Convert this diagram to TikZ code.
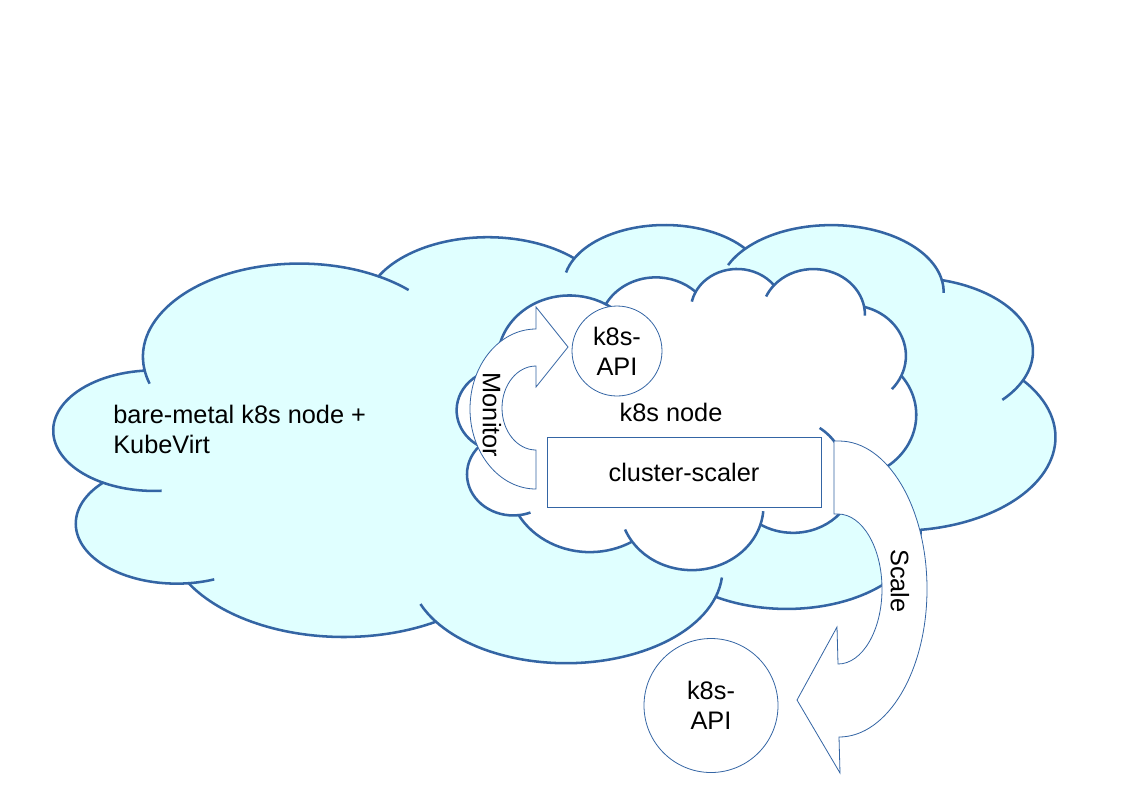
\documentclass[tikz,border=0pt]{standalone}
\usepackage{fontspec}
\setmainfont{Liberation Sans}
\usetikzlibrary{positioning}
\definecolor{CloudLine}{HTML}{3465A4}
\definecolor{CloudFill}{HTML}{E0FFFF}
\tikzset{
  cloudline/.style={draw=CloudLine,line width=1.9pt,line join=round},
  thinline/.style={draw=CloudLine,line width=0.6pt,line join=miter},
  txt/.style={font=\fontsize{19}{22.5}\selectfont,inner sep=0pt},
  apicircle/.style={circle,thinline,fill=white,align=center,txt},
  scalerbox/.style={rectangle,thinline,fill=white,txt,minimum width=205.5pt,minimum height=52.5pt}
}
% cloud outline: #1 name, #2/#3 top left, #4/#5 units, #6 fill
\newcommand\drawcloud[6]{%
\begin{scope}[shift={(#2,#3)}]
\begin{scope}[x=#4,y=-#5]
\filldraw[cloudline,fill=#6] (3.900,14.370) coordinate (#1-p0)
  arc[start angle=172.25,end angle=300.37,x radius=6.753,y radius=9.190] coordinate (#1-p1)
  arc[start angle=-152.05,end angle=-45.44,x radius=5.333,y radius=7.267] coordinate (#1-p2)
  arc[start angle=-153.49,end angle=-37.34,x radius=4.365,y radius=5.945] coordinate (#1-p3)
  arc[start angle=-139.71,end angle=-10.21,x radius=4.857,y radius=6.595] coordinate (#1-p4)
  arc[start angle=-74.77,end angle=23.21,x radius=5.333,y radius=7.273] coordinate (#1-p5)
  arc[start angle=-37.54,end angle=81.86,x radius=6.775,y radius=9.220] coordinate (#1-p6)
  arc[start angle=0.46,end angle=121.98,x radius=5.785,y radius=7.867] coordinate (#1-p7)
  arc[start angle=16.84,end angle=146.22,x radius=6.752,y radius=9.215] coordinate (#1-p8)
  arc[start angle=58.98,end angle=150.20,x radius=7.720,y radius=10.543] coordinate (#1-p9)
  arc[start angle=83.31,end angle=223.08,x radius=4.360,y radius=5.918] coordinate (#1-p10)
  arc[start angle=120.36,end angle=264.12,x radius=4.345,y radius=5.945] -- cycle;
% inner hooks
\draw[cloudline] (#1-p10) arc[start angle=120.36,end angle=85.54,x radius=4.345,y radius=5.945];
\draw[cloudline] (#1-p9) arc[start angle=83.31,end angle=68.24,x radius=4.360,y radius=5.918];
\draw[cloudline] (#1-p8) arc[start angle=146.22,end angle=158.47,x radius=6.752,y radius=9.215];
\draw[cloudline] (#1-p7) arc[start angle=16.84,end angle=4.74,x radius=6.752,y radius=9.215];
\draw[cloudline] (34.129,22.954) arc[start angle=-54,end angle=-30,x radius=5.785,y radius=7.867];
\draw[cloudline] (#1-p5) arc[start angle=23.21,end angle=41.23,x radius=5.333,y radius=7.273];
\draw[cloudline] (#1-p4) arc[start angle=-10.21,end angle=0.83,x radius=4.857,y radius=6.595];
\draw[cloudline] (#1-p3) arc[start angle=-139.71,end angle=-156.28,x radius=4.857,y radius=6.595];
\draw[cloudline] (#1-p2) arc[start angle=-153.49,end angle=-167.73,x radius=4.365,y radius=5.945];
\draw[cloudline] (#1-p1) arc[start angle=-59.63,end angle=-45.72,x radius=6.753,y radius=9.190];
\draw[cloudline] (#1-p0) arc[start angle=172.25,end angle=163.2,x radius=6.753,y radius=9.190];
\end{scope}
\end{scope}}

\begin{document}
\begin{tikzpicture}[x=0.75pt,y=-0.75pt]
\useasboundingbox (0,0) rectangle (1123,794);

% clouds
\drawcloud{outer}{54}{223.6}{17.378pt}{7.604pt}{CloudFill}
\drawcloud{inner}{457}{268}{7.969pt}{5.226pt}{white}

% nodes
\node[apicircle,minimum size=67.5pt] (apitop) at (617,351) {k8s-\\API};
\node[scalerbox] (scaler) at (684,472) {cluster-scaler};
\node[txt,anchor=base] (k8snode) at (671,421) {k8s node};
\node[txt,anchor=base west,align=left] (baremetal) at (113,453) {bare-metal k8s node +\\KubeVirt};
\node[apicircle,minimum size=100.5pt] (apibottom) at (711,705.5) {k8s-\\API};

% Monitor arrow
\draw[thinline,fill=white] (536,489)
  arc[start angle=90,end angle=270,x radius=66,y radius=80]
  -- (536,307) -- (568,347) -- (536,387) -- (536,366)
  arc[start angle=270,end angle=90,x radius=34,y radius=42] -- cycle;
\node[txt,rotate=-90] (monitor) at (492,415) {Monitor};

% Scale arrow
\draw[thinline,fill=white] (834,441) -- (839,441)
  arc[start angle=-90,end angle=90,x radius=88,y radius=148]
  -- (840,773) -- (797,700) -- (837,627) -- (838,664)
  arc[start angle=90,end angle=-90,x radius=44,y radius=75]
  -- (834,514) -- cycle;
\node[txt,rotate=-90] (scale) at (900,581) {Scale};
\end{tikzpicture}
\end{document}
